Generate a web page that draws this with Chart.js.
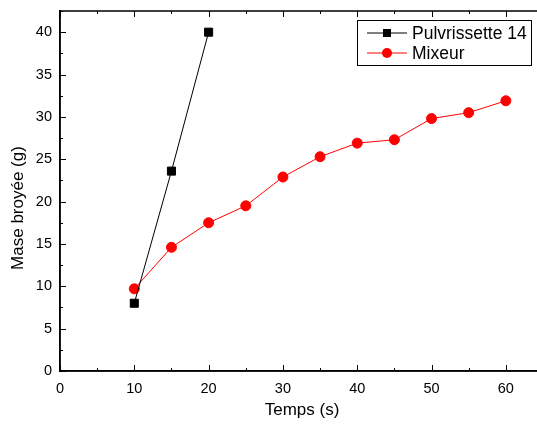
<!DOCTYPE html>
<html>
<head>
<meta charset="utf-8">
<script src="https://cdn.jsdelivr.net/npm/chart.js@4/dist/chart.umd.min.js"></script>
<style>
  html, body { margin: 0; padding: 0; background: #fff; }
  #wrap { width: 537px; height: 424px; overflow: hidden; position: relative; }
  #chart { position: absolute; left: 0; top: 0; }
</style>
</head>
<body>
<div id="wrap"><canvas id="chart" width="560" height="424"></canvas></div>
<script>
const pulvTimes = [10, 15, 20];
const pulvMass = [8.0, 23.6, 40.0];
const mixTimes = [10, 15, 20, 25, 30, 35, 40, 45, 50, 55, 60];
const mixMass = [9.7, 14.6, 17.5, 19.5, 22.9, 25.3, 26.9, 27.3, 29.8, 30.5, 31.9];
const xTicks = [0, 10, 20, 30, 40, 50, 60];
const yTicks = [0, 5, 10, 15, 20, 25, 30, 35, 40];
const seriesNames = ['Pulvrissette 14', 'Mixeur'];

const FONT = 'Arial, "Liberation Sans", sans-serif';

// ticks pointing inside the frame, plus the mirrored top/right frame
const framePlugin = {
  id: 'frame',
  afterDraw(chart) {
    const { ctx, chartArea: a, scales: { x, y } } = chart;
    ctx.save();
    ctx.strokeStyle = '#000';
    ctx.lineWidth = 1.5;
    ctx.strokeRect(a.left, a.top, a.right - a.left, a.bottom - a.top);
    ctx.lineWidth = 1;
    ctx.beginPath();
    for (let v = 0; v <= x.max; v += 5) {
      const px = Math.round(x.getPixelForValue(v)) + 0.5;
      const len = v % 10 === 0 ? 6 : 3;
      ctx.moveTo(px, a.bottom); ctx.lineTo(px, a.bottom - len);
      ctx.moveTo(px, a.top); ctx.lineTo(px, a.top + len);
    }
    for (let v = 0; v <= y.max; v += 2.5) {
      const py = Math.round(y.getPixelForValue(v)) + 0.5;
      const len = v % 5 === 0 ? 6 : 3;
      ctx.moveTo(a.left, py); ctx.lineTo(a.left + len, py);
      ctx.moveTo(a.right, py); ctx.lineTo(a.right - len, py);
    }
    ctx.stroke();

    // axis titles
    ctx.fillStyle = '#000';
    ctx.font = '17px ' + FONT;
    ctx.textAlign = 'center';
    ctx.textBaseline = 'middle';
    ctx.fillText('Temps (s)', 302, 410);
    ctx.translate(18, 208);
    ctx.rotate(-Math.PI / 2);
    ctx.fillText('Mase broyée (g)', 0, 0);
    ctx.restore();
  }
};

const legendPlugin = {
  id: 'boxLegend',
  afterDraw(chart) {
    const { ctx } = chart;
    ctx.save();
    ctx.fillStyle = '#fff';
    ctx.fillRect(357, 20, 174, 45);
    ctx.strokeStyle = '#000';
    ctx.lineWidth = 1;
    ctx.strokeRect(357.5, 20.5, 174, 45);
    chart.data.datasets.forEach((ds, i) => {
      const yy = 33 + i * 20;
      ctx.strokeStyle = ds.borderColor;
      ctx.lineWidth = 1;
      ctx.beginPath();
      ctx.moveTo(367, yy); ctx.lineTo(407, yy);
      ctx.stroke();
      ctx.fillStyle = ds.pointBackgroundColor;
      if (ds.pointStyle === 'rect') {
        ctx.fillRect(383, yy - 4, 8, 8);
      } else {
        ctx.beginPath();
        ctx.arc(387, yy, 5, 0, Math.PI * 2);
        ctx.fill();
      }
      ctx.fillStyle = '#000';
      ctx.font = '17.5px ' + FONT;
      ctx.textAlign = 'left';
      ctx.textBaseline = 'middle';
      ctx.fillText(ds.label, 412, yy + 1);
    });
    ctx.restore();
  }
};

new Chart(document.getElementById('chart'), {
  type: 'line',
  data: {
    datasets: [
      {
        label: seriesNames[0],
        data: pulvTimes.map((t, i) => ({ x: t, y: pulvMass[i] })),
        borderColor: '#000',
        backgroundColor: '#000',
        pointBackgroundColor: '#000',
        pointBorderColor: '#000',
        pointStyle: 'rect',
        pointRadius: 5.7,
        borderWidth: 1,
        tension: 0
      },
      {
        label: seriesNames[1],
        data: mixTimes.map((t, i) => ({ x: t, y: mixMass[i] })),
        borderColor: '#ff0000',
        backgroundColor: '#ff0000',
        pointBackgroundColor: '#ff0000',
        pointBorderColor: '#ff0000',
        pointStyle: 'circle',
        pointRadius: 5,
        borderWidth: 1,
        tension: 0
      }
    ]
  },
  options: {
    responsive: false,
    animation: false,
    layout: { padding: { top: 11, right: 17, left: 0, bottom: 0 } },
    plugins: { legend: { display: false }, tooltip: { enabled: false } },
    scales: {
      x: {
        type: 'linear',
        min: 0,
        max: 65,
        afterFit(s) { s.height = 53; s.paddingLeft = 0; s.paddingRight = 0; },
        afterBuildTicks(s) { s.ticks = xTicks.map(v => ({ value: v })); },
        grid: { display: false },
        border: { display: true, color: '#000', width: 1.5 },
        ticks: { color: '#000', padding: 1, font: { size: 14.5, family: FONT }, maxRotation: 0 }
      },
      y: {
        type: 'linear',
        min: 0,
        max: 42.5,
        afterFit(s) { s.width = 60; s.paddingTop = 0; s.paddingBottom = 0; },
        afterBuildTicks(s) { s.ticks = yTicks.map(v => ({ value: v })); },
        grid: { display: false },
        border: { display: true, color: '#000', width: 1.5 },
        ticks: { color: '#000', padding: 0, font: { size: 14.5, family: FONT } }
      }
    }
  },
  plugins: [framePlugin, legendPlugin]
});
</script>
</body>
</html>
